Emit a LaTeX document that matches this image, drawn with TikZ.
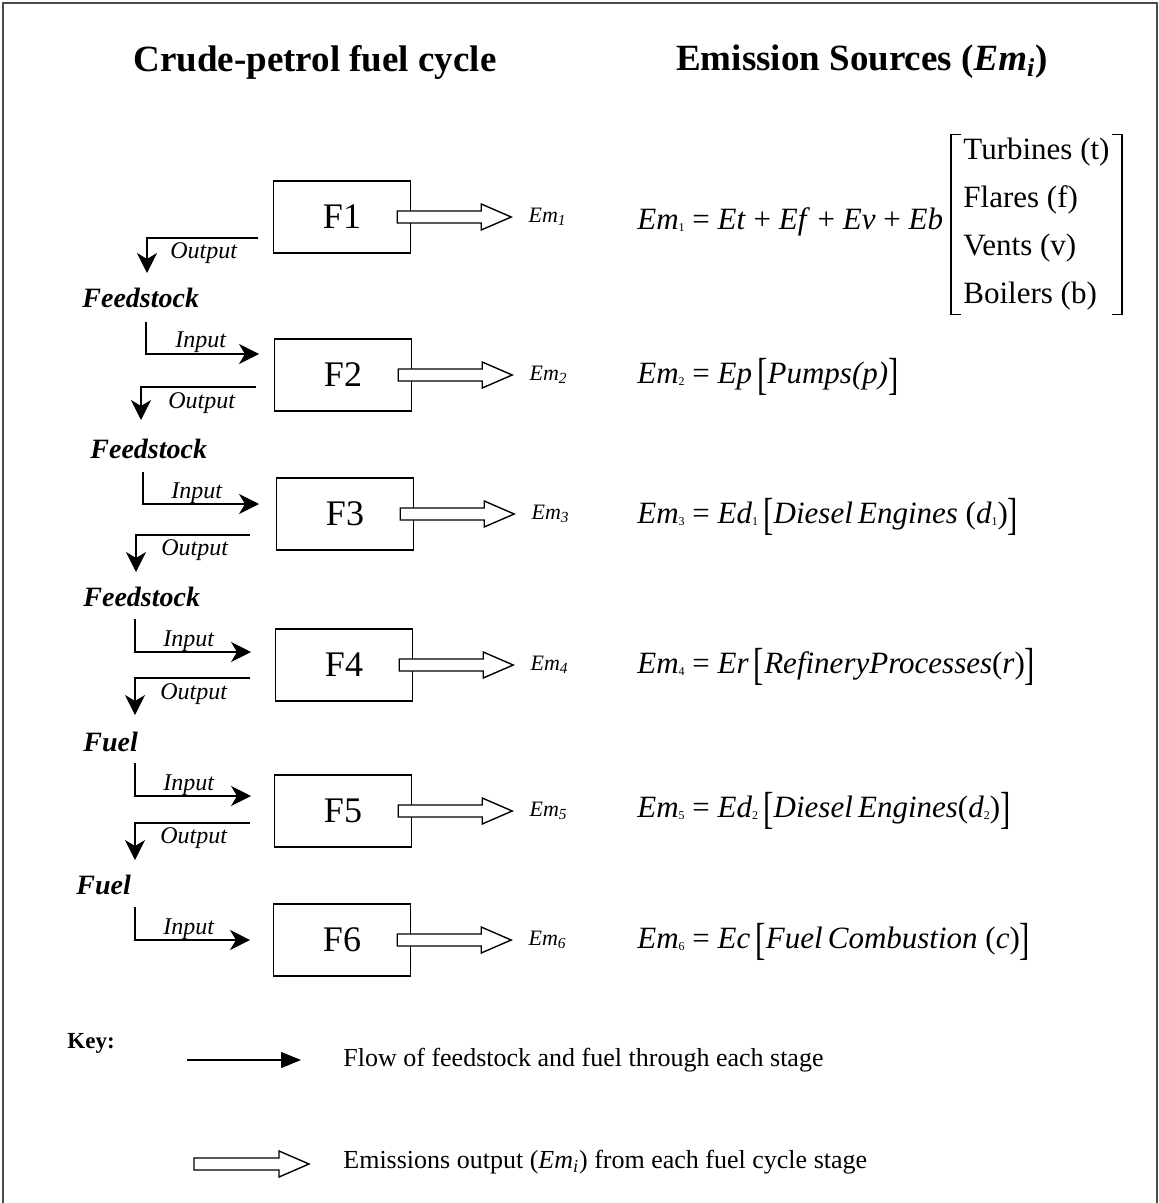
\documentclass[tikz,border=0pt]{standalone}
\usepackage{fontspec}
\setmainfont{Liberation Serif}
\usepackage{graphicx}
\usetikzlibrary{positioning,calc,arrows.meta}

\newcommand{\lowsub}[1]{\raisebox{-1pt}{\fontsize{6}{6}\selectfont #1}}
\newcommand{\lbrk}{\raisebox{-0.2em}{\scalebox{1}[1.45]{[}}}
\newcommand{\rbrk}{\raisebox{-0.2em}{\scalebox{1}[1.45]{]}}}
% hollow emission arrow between two named coordinates
\newcommand{\emarrow}[2]{\filldraw[fill=white, line width=0.7pt]
  ($(#1)+(0,-6)$) -- ($(#2)+(-30,-6)$) -- ($(#2)+(-30,-13)$) -- (#2)
  -- ($(#2)+(-30,13)$) -- ($(#2)+(-30,6)$) -- ($(#1)+(0,6)$) -- cycle;}

\begin{document}
\begin{tikzpicture}[x=0.5pt, y=-0.5pt, >={Stealth[length=10pt,width=10pt,inset=3pt]}]
  \tikzstyle{stage}=[rectangle, draw, line width=0.7pt, minimum width=68.5pt, minimum height=36pt, inner sep=0pt, font=\fontsize{18}{20}\selectfont]
  \tikzstyle{flow}=[->, line width=0.6pt]
  \tikzstyle{stream}=[anchor=west, inner sep=0pt, font=\fontsize{14}{16}\selectfont\bfseries\itshape]
  \tikzstyle{io}=[anchor=west, inner sep=0pt, font=\fontsize{12}{14}\selectfont\itshape]
  \tikzstyle{em}=[anchor=west, inner sep=0pt, font=\fontsize{11}{12}\selectfont\itshape]
  \tikzstyle{eq}=[anchor=west, inner sep=0pt, font=\fontsize{15.5}{18}\selectfont]
  \tikzstyle{head}=[inner sep=0pt, font=\fontsize{18.5}{20}\selectfont\bfseries]
  \tikzstyle{keytext}=[anchor=west, inner sep=0pt, font=\fontsize{13}{15}\selectfont]

  \useasboundingbox (0,0) rectangle (1159,1203);
  \draw[black!70, line width=1pt] (3,1230) -- (3,3) -- (1157,3) -- (1157,1230);

  % column titles
  \node[head] (t1) at (315,62) {Crude-petrol fuel cycle};
  \node[head] (t2) at (862,62) {Emission Sources (\textit{Em\textsubscript{i}})};

  % fuel cycle stages
  \node[stage] (F1) at (342,217) {F1};
  \node[stage] (F2) at (343,375) {F2};
  \node[stage] (F3) at (345,514) {F3};
  \node[stage] (F4) at (344,665) {F4};
  \node[stage] (F5) at (343,811) {F5};
  \node[stage] (F6) at (342,940) {F6};

  \node[stream] (s1) at (82,298) {Feedstock};
  \node[stream] (s2) at (90,449) {Feedstock};
  \node[stream] (s3) at (83,597) {Feedstock};
  \node[stream] (s4) at (83,742) {Fuel};
  \node[stream] (s5) at (76,885) {Fuel};

  % outputs
  \coordinate (o1a) at (258,238); \coordinate (o1b) at (147,273);
  \coordinate (o2a) at (256,387); \coordinate (o2b) at (141,420);
  \coordinate (o3a) at (250,535); \coordinate (o3b) at (136,572);
  \coordinate (o4a) at (250,678); \coordinate (o4b) at (135,715);
  \coordinate (o5a) at (250,823); \coordinate (o5b) at (135,860);
  \draw[flow] (o1a) -| (o1b);
  \draw[flow] (o2a) -| (o2b);
  \draw[flow] (o3a) -| (o3b);
  \draw[flow] (o4a) -| (o4b);
  \draw[flow] (o5a) -| (o5b);
  \node[io] (ol1) at (170,253) {Output};
  \node[io] (ol2) at (168,403) {Output};
  \node[io] (ol3) at (161,550) {Output};
  \node[io] (ol4) at (160,694) {Output};
  \node[io] (ol5) at (160,838) {Output};

  % inputs
  \coordinate (i2a) at (146,322); \coordinate (i2b) at (259,354);
  \coordinate (i3a) at (143,472); \coordinate (i3b) at (259,504);
  \coordinate (i4a) at (135,619); \coordinate (i4b) at (251,652);
  \coordinate (i5a) at (135,763); \coordinate (i5b) at (251,796);
  \coordinate (i6a) at (135,907); \coordinate (i6b) at (250,940);
  \draw[flow] (i2a) |- (i2b);
  \draw[flow] (i3a) |- (i3b);
  \draw[flow] (i4a) |- (i4b);
  \draw[flow] (i5a) |- (i5b);
  \draw[flow] (i6a) |- (i6b);
  \node[io] (il2) at (175,342) {Input};
  \node[io] (il3) at (171,493) {Input};
  \node[io] (il4) at (163,641) {Input};
  \node[io] (il5) at (163,785) {Input};
  \node[io] (il6) at (163,929) {Input};

  % emissions
  \foreach \i in {1,...,6} {
    \coordinate (e\i a) at ($(F\i.east)+(-14,0)$);
    \coordinate (e\i b) at ($(e\i a)+(114,0)$);
    \emarrow{e\i a}{e\i b}
    \node[em] (em\i) at ($(e\i b)+(17,0)$) {Em\textsubscript{\i}};
  }

  % emission sources
  \node[eq] (q1) at (637,222) {\textit{Em}\lowsub{1} = \textit{Et} + \textit{Ef} + \textit{Ev} + \textit{Eb}};
  \node[anchor=west, inner sep=0pt, align=left, font=\fontsize{15.5}{24}\selectfont] (srcs) at (963,224)
    {Turbines (t)\\Flares (f)\\Vents (v)\\Boilers (b)};
  \draw[line width=0.6pt] ($(srcs.north west)+(-2,-3)$) -- ++(-10,0) -- ($(srcs.south west)+(-12,4)$) -- ++(10,0);
  \draw[line width=0.6pt] ($(srcs.north east)+(2,-3)$) -- ++(10,0) -- ($(srcs.south east)+(12,4)$) -- ++(-10,0);
  \node[eq] (q2) at (637,377) {\textit{Em}\lowsub{2} = \textit{Ep}\,\lbrk\textit{Pumps(p)}\rbrk};
  \node[eq] (q3) at (637,517) {\textit{Em}\lowsub{3} = \textit{Ed}\lowsub{1}\,\lbrk\textit{Diesel\,Engines} (\textit{d}\lowsub{1})\rbrk};
  \node[eq] (q4) at (637,667) {\textit{Em}\lowsub{4} = \textit{Er}\,\lbrk\textit{RefineryProcesses}(\textit{r})\rbrk};
  \node[eq] (q5) at (637,811) {\textit{Em}\lowsub{5} = \textit{Ed}\lowsub{2}\,\lbrk\textit{Diesel\,Engines}(\textit{d}\lowsub{2})\rbrk};
  \node[eq] (q6) at (637,942) {\textit{Em}\lowsub{6} = \textit{Ec}\,\lbrk\textit{Fuel\,Combustion} (\textit{c})\rbrk};

  % key
  \node[anchor=west, inner sep=0pt, font=\fontsize{11.5}{14}\selectfont\bfseries] (key) at (67,1043) {Key:};
  \coordinate (k1a) at (187,1060); \coordinate (k1b) at (301,1060);
  \draw[line width=0.6pt, -{Triangle[length=10pt,width=8pt]}] (k1a) -- (k1b);
  \node[keytext] (k1) at (343,1060) {Flow of feedstock and fuel through each stage};
  \coordinate (k2a) at (194,1164); \coordinate (k2b) at (309,1164);
  \emarrow{k2a}{k2b}
  \node[keytext] (k2) at (343,1162) {Emissions output (\textit{Em\textsubscript{i}}) from each fuel cycle stage};
\end{tikzpicture}
\end{document}
